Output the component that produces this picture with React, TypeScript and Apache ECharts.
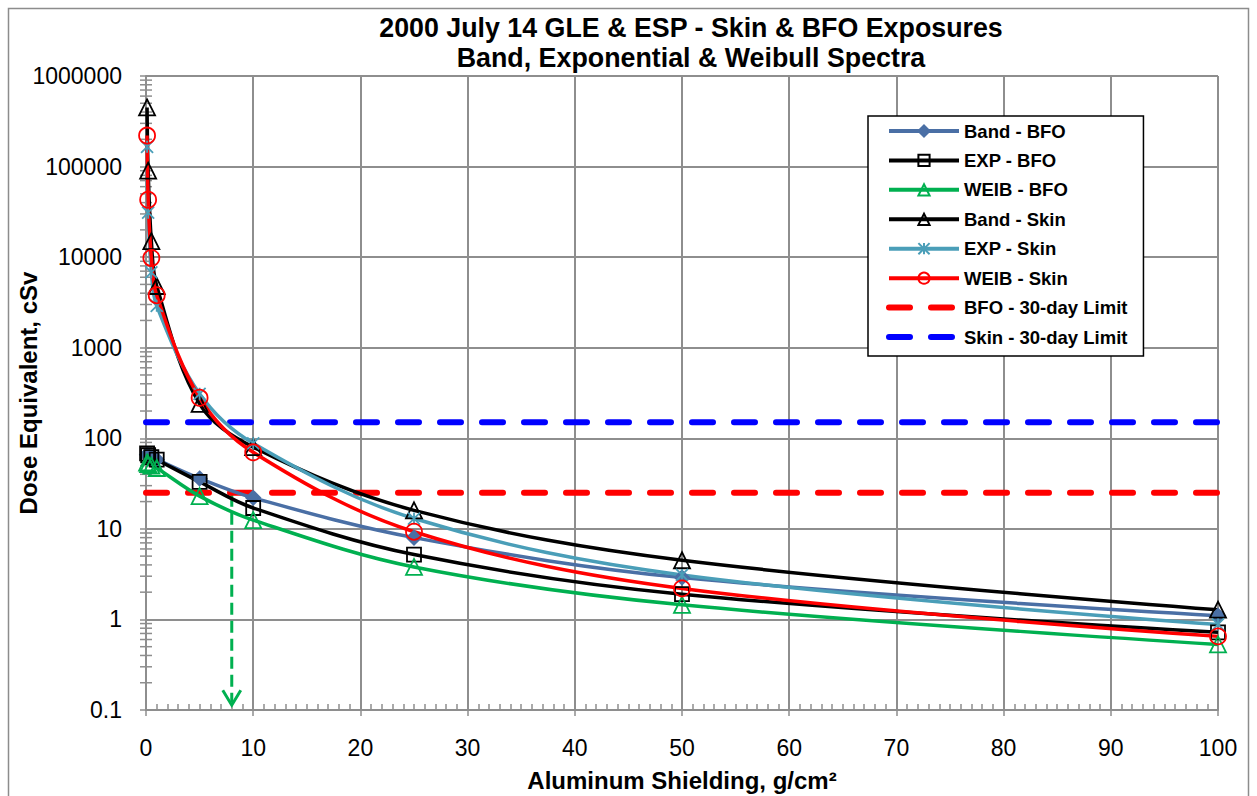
import React, { useEffect, useRef } from "react";
import * as echarts from "echarts";

// ---- data ----
const shielding = [0.1, 0.2, 0.5, 1, 5, 10, 25, 50, 100];
const bandBFO = [66, 64, 61, 58, 36, 22, 8, 2.9, 1.1];
const expBFO = [68, 65, 62, 58, 33, 17, 5.2, 1.9, 0.72];
const weibBFO = [54, 52, 50, 47, 23, 12.5, 3.8, 1.45, 0.53];
const bandSkin = [450000, 90000, 15000, 4800, 240, 80, 16, 4.5, 1.28];
const expSkin = [165000, 31000, 6800, 2900, 310, 88, 13, 3.1, 0.88];
const weibSkin = [220000, 43000, 9800, 3800, 280, 70, 9.3, 2.2, 0.65];
const limitX = [0, 100];
const bfoLimit = 25;
const skinLimit = 150;
const arrowX = 8;
const arrowTop = 25;
const arrowBottom = 0.113;
const yDecades = [0.1, 1, 10, 100, 1000, 10000, 100000];
const yMinorSteps = [2, 3, 4, 5, 6, 7, 8, 9];
const dataNames = [
  "Band - BFO",
  "EXP - BFO",
  "WEIB - BFO",
  "Band - Skin",
  "EXP - Skin",
  "WEIB - Skin",
];
const limitNames = ["BFO - 30-day Limit", "Skin - 30-day Limit"];

const FONT = '"Liberation Sans", Arial, sans-serif';
const GRID = "#8e8e8e";

const pts = (ys: number[]) => shielding.map((x, i) => [x, ys[i]]);

export default function App() {
  const ref = useRef<HTMLDivElement>(null);
  useEffect(() => {
    if (!ref.current) return;
    const chart = echarts.init(ref.current, undefined, { renderer: "svg" });

    const minorY: number[][] = [];
    yDecades.forEach((d) => yMinorSteps.forEach((m) => minorY.push([0, d * m])));

    const dataLine = (
      name: string,
      ys: number[],
      color: string,
      symbol: string,
      size: number,
      fill: string
    ) => ({
      name,
      type: "line",
      data: pts(ys),
      smooth: 0.35,
      symbol,
      symbolSize: size,
      showSymbol: true,
      lineStyle: { color, width: 3.5 },
      itemStyle: { color: fill, borderColor: color, borderWidth: 1.8 },
      emphasis: { disabled: true },
      z: 3,
    });

    const limitLine = (name: string, v: number, color: string) => ({
      name,
      type: "line",
      data: limitX.map((x) => [x, v]),
      symbol: "none",
      lineStyle: { color, width: 6, type: [21, 21], cap: "round" },
      itemStyle: { color: "transparent", borderWidth: 0 },
      emphasis: { disabled: true },
      z: 2,
    });

    chart.setOption({
      animation: false,
      grid: { left: 146, right: 39, top: 76, bottom: 86 },
      legend: {
        data: [
          ...dataNames.map((n) => ({ name: n, lineStyle: { width: 4 } })),
          ...limitNames.map((n) => ({
            name: n,
            lineStyle: { width: 6 },
            itemStyle: { opacity: 0 },
          })),
        ],
        orient: "vertical",
        left: 868,
        top: 116,
        padding: [5, 16, 9, 18],
        itemGap: 9.43,
        itemWidth: 70,
        itemHeight: 14,
        backgroundColor: "#fff",
        borderColor: "#000",
        borderWidth: 1.5,
        textStyle: {
          fontFamily: FONT,
          fontWeight: "bold",
          fontSize: 18.5,
          lineHeight: 20,
          color: "#000",
        },
        selectedMode: false,
      },
      xAxis: [
        {
          type: "value",
          min: 0,
          max: 100,
          interval: 10,
          axisLine: { lineStyle: { color: GRID, width: 2 } },
          axisTick: { inside: true, length: 6, lineStyle: { color: GRID, width: 1.5 } },
          minorTick: { show: true, splitNumber: 10, length: 6, lineStyle: { color: GRID, width: 1.5 } },
          splitLine: { show: true, lineStyle: { color: GRID, width: 2 } },
          axisLabel: { fontFamily: FONT, fontSize: 23, color: "#000", margin: 26 },
        },
        {
          type: "value",
          position: "bottom",
          min: 0,
          max: 100,
          interval: 10,
          axisLine: { show: false },
          axisTick: { show: true, inside: false, length: 6, lineStyle: { color: GRID, width: 1.5 } },
          axisLabel: { show: false },
          splitLine: { show: false },
        },
      ],
      yAxis: {
        type: "log",
        logBase: 10,
        min: 0.1,
        max: 1000000,
        splitNumber: 7,
        axisLine: { show: true, lineStyle: { color: GRID, width: 2 } },
        axisTick: { show: true, length: 6, lineStyle: { color: GRID, width: 1.5 } },
        splitLine: { show: true, lineStyle: { color: GRID, width: 2 } },
        axisLabel: {
          fontFamily: FONT,
          fontSize: 23,
          color: "#000",
          margin: 24,
          formatter: (v: number) => (v < 1 ? v.toFixed(1) : String(Math.round(v))),
        },
      },
      graphic: [
        {
          type: "rect",
          shape: { x: 8.5, y: 8.5, width: 1240, height: 800 },
          style: { fill: "none", stroke: "#8c8c8c", lineWidth: 1.5 },
          silent: true,
          z: -10,
        },
        {
          type: "text",
          x: 691,
          y: 28,
          style: {
            text: "2000 July 14 GLE & ESP - Skin & BFO Exposures",
            font: `bold 26.8px ${FONT}`,
            fill: "#000",
            textAlign: "center",
            textVerticalAlign: "middle",
          },
        },
        {
          type: "text",
          x: 691,
          y: 58,
          style: {
            text: "Band, Exponential & Weibull Spectra",
            font: `bold 26.8px ${FONT}`,
            fill: "#000",
            textAlign: "center",
            textVerticalAlign: "middle",
          },
        },
        {
          type: "text",
          x: 682,
          y: 780,
          style: {
            text: "Aluminum Shielding, g/cm²",
            font: `bold 24px ${FONT}`,
            fill: "#000",
            textAlign: "center",
            textVerticalAlign: "middle",
          },
        },
        {
          type: "text",
          x: 28,
          y: 393,
          rotation: Math.PI / 2,
          style: {
            text: "Dose Equivalent, cSv",
            font: `bold 24px ${FONT}`,
            fill: "#000",
            textAlign: "center",
            textVerticalAlign: "middle",
          },
        },
      ],
      series: [
        {
          name: "yMinorTicks",
          type: "custom",
          silent: true,
          clip: false,
          data: minorY,
          encode: { x: 0, y: 1 },
          renderItem: (_p: any, api: any) => {
            const c = api.coord([api.value(0), api.value(1)]);
            return {
              type: "line",
              shape: { x1: c[0] - 6, y1: c[1], x2: c[0] + 6, y2: c[1] },
              style: { stroke: GRID, lineWidth: 1.5 },
            };
          },
          z: 1,
        },
        limitLine(limitNames[0], bfoLimit, "#ff0000"),
        limitLine(limitNames[1], skinLimit, "#0000ff"),
        {
          name: "arrow",
          type: "custom",
          silent: true,
          clip: false,
          data: [[arrowX, arrowTop, arrowBottom]],
          encode: { x: 0, y: [1, 2] },
          renderItem: (_p: any, api: any) => {
            const t = api.coord([api.value(0), api.value(1)]);
            const b = api.coord([api.value(0), api.value(2)]);
            return {
              type: "group",
              children: [
                {
                  type: "line",
                  shape: { x1: t[0], y1: t[1] + 2, x2: b[0], y2: b[1] - 3 },
                  style: { stroke: "#00b050", lineWidth: 3, lineDash: [12, 6] },
                },
                {
                  type: "polyline",
                  shape: {
                    points: [
                      [b[0] - 9, b[1] - 15],
                      [b[0], b[1]],
                      [b[0] + 9, b[1] - 15],
                    ],
                  },
                  style: { stroke: "#00b050", lineWidth: 3, fill: "none" },
                },
              ],
            };
          },
          z: 2,
        },
        dataLine(dataNames[0], bandBFO, "#4a6fa5", "diamond", 14, "#4a6fa5"),
        dataLine(dataNames[1], expBFO, "#000000", "rect", 14, "transparent"),
        dataLine(dataNames[2], weibBFO, "#00b050", "triangle", 16, "transparent"),
        dataLine(dataNames[3], bandSkin, "#000000", "triangle", 16, "transparent"),
        dataLine(
          dataNames[4],
          expSkin,
          "#4a9eb8",
          "path://M0 0L10 10M10 0L0 10M5 0L5 10",
          12,
          "transparent"
        ),
        dataLine(dataNames[5], weibSkin, "#ff0000", "circle", 16, "transparent"),
      ],
    });
    return () => chart.dispose();
  }, []);
  return (
    <div
      ref={ref}
      style={{ position: "fixed", left: 0, top: 0, width: 1257, height: 796, background: "#fff" }}
    />
  );
}
